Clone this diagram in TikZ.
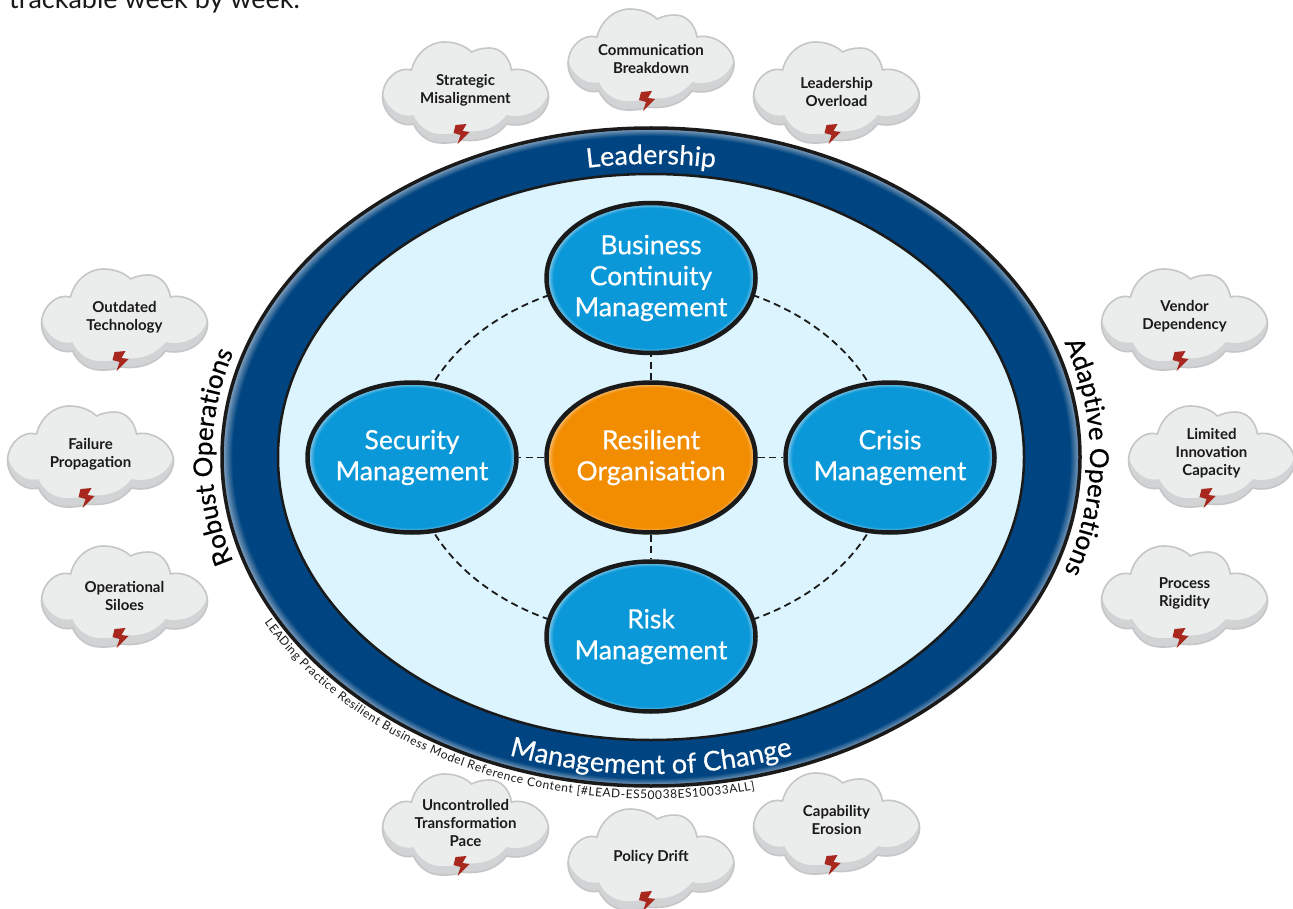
\documentclass[tikz,border=0pt]{standalone}
\usepackage{fontspec}
\setmainfont{Lato}
\newfontfamily\medf[FakeBold=0.5]{Lato}
\usetikzlibrary{shapes.geometric,decorations.text}
\definecolor{navy}{HTML}{004581}
\definecolor{navyedge}{HTML}{8FA9C4}
\definecolor{pale}{HTML}{DCF4FE}
\definecolor{nodeblue}{HTML}{0B98D8}
\definecolor{nodeblueedge}{HTML}{A5D4EC}
\definecolor{nodeorange}{HTML}{F28C00}
\definecolor{nodeorangeedge}{HTML}{F7CB94}
\definecolor{ink}{HTML}{1A1A1A}
\definecolor{cloudlight}{HTML}{EBEDED}
\definecolor{clouddark}{HTML}{D1D3D4}
\definecolor{cloudline}{HTML}{C4C6C8}
\definecolor{boltred}{HTML}{A8281F}
\pgfdeclareradialshading{ringshade}{\pgfpoint{0bp}{0bp}}{color(0bp)=(navy);color(24.4bp)=(navy);color(25bp)=(navyedge);color(50bp)=(navyedge)}
\pgfdeclareradialshading{blueshade}{\pgfpoint{0bp}{0bp}}{color(0bp)=(nodeblue);color(23.4bp)=(nodeblue);color(25bp)=(nodeblueedge);color(50bp)=(nodeblueedge)}
\pgfdeclareradialshading{orangeshade}{\pgfpoint{0bp}{0bp}}{color(0bp)=(nodeorange);color(23.4bp)=(nodeorange);color(25bp)=(nodeorangeedge);color(50bp)=(nodeorangeedge)}
\pgfdeclarelayer{bg}
\pgfdeclarelayer{conn}
\pgfsetlayers{bg,conn,main}
\tikzset{
  x=1pt,y=-1pt,
  bubble/.style={ellipse,draw=ink,line width=4.5pt,minimum width=209pt,minimum height=150pt,inner xsep=-16pt,inner ysep=0pt,
    text=white,align=center,font=\medf\fontsize{26.5}{31}\selectfont},
  bluebubble/.style={bubble,shading=blueshade},
  orangebubble/.style={bubble,shading=orangeshade},
  linkline/.style={dashed,dash pattern=on 7pt off 4.5pt,line width=1.8pt,draw=ink},
  cloudtext/.style={align=center,inner sep=0pt,text=ink,font=\bfseries\fontsize{15}{18}\selectfont},
}
\def\cloudpath{(-54,-22) .. controls (-50,-38) and (-37,-50) .. (-21,-50) .. controls (-10,-50) and (0,-46) .. (6,-40)
 .. controls (12,-43) and (18,-44) .. (24,-44) .. controls (36,-44) and (44,-34) .. (46,-22)
 .. controls (62,-26) and (83,-12) .. (83,5) .. controls (83,22) and (64,37) .. (41,32)
 .. controls (30,46) and (14,50) .. (-4,48) .. controls (-10,51) and (-16,51) .. (-24,51)
 .. controls (-37,51) and (-47,43) .. (-52,32) .. controls (-68,36) and (-83,20) .. (-83,5)
 .. controls (-83,-12) and (-68,-26) .. (-54,-22) -- cycle}
% name, x, y, text offset, text
\newcommand{\cloudat}[5]{%
  \begin{scope}[shift={(#2,#3)}]
    \begin{scope}
      \clip \cloudpath;
      \fill[clouddark] \cloudpath;
      \begin{scope}[yshift=9pt]
        \fill[cloudlight] \cloudpath;
      \end{scope}
    \end{scope}
    \draw[cloudline,line width=1.6pt] \cloudpath;
    \fill[boltred] (-10,33) -- (1,32) -- (-3,39) -- (4,40) -- (-8,52) -- (-5,43) -- (-12,41) -- cycle;
    \node[cloudtext] (#1) at (0,#4) {#5};
  \end{scope}}
\begin{document}
\begin{tikzpicture}
\useasboundingbox (0,0) rectangle (1293,909);
\coordinate (c) at (651,457);

\node[anchor=base west,inner sep=0pt,text=ink,font=\fontsize{27}{27}\selectfont] (head) at (9,9) {trackable week by week.};

\begin{pgfonlayer}{bg}
  \fill[white] (0,0) rectangle (1293,909);
  \path[shading=ringshade,draw=ink,line width=3.5pt] (c) ellipse [x radius=429pt,y radius=329pt];
  \path[fill=pale,draw=ink,line width=2.5pt] (c) ellipse [x radius=373pt,y radius=283pt];
\end{pgfonlayer}

\node[bluebubble] (biz) at (651,278) {Business\\Continuity\\Management};
\node[bluebubble] (sec) at (412,457.5) {Security\\Management};
\node[bluebubble] (cri) at (890,457.5) {Crisis\\Management};
\node[bluebubble] (risk) at (651,636.5) {Risk\\Management};
\node[orangebubble] (res) at (651,457.5) {Resilient\\Organisation};

\begin{pgfonlayer}{conn}
  \draw[linkline] (res) -- (biz);
  \draw[linkline] (res) -- (sec);
  \draw[linkline] (res) -- (cri);
  \draw[linkline] (res) -- (risk);
  \draw[linkline] (biz.center) .. controls +(-132,0) and +(0,-99) .. (sec.center);
  \draw[linkline] (biz.center) .. controls +(132,0) and +(0,-99) .. (cri.center);
  \draw[linkline] (risk.center) .. controls +(-132,0) and +(0,99) .. (sec.center);
  \draw[linkline] (risk.center) .. controls +(132,0) and +(0,99) .. (cri.center);
\end{pgfonlayer}

\path[decorate,decoration={text along path,text align=center,
  text={|\medf\fontsize{26.8}{26.8}\selectfont\color{white}|Leadership}}]
  (c) ++(150:393pt and 293pt) arc[start angle=150,end angle=30,x radius=393pt,y radius=293pt];
\path[decorate,decoration={text along path,text align=center,
  text={|\medf\fontsize{27.2}{27.2}\selectfont\color{white}|Management of Change}}]
  (c) ++(210:417pt and 317pt) arc[start angle=210,end angle=330,x radius=417pt,y radius=317pt];
\path[decorate,decoration={text along path,text align=center,
  text={|\medf\fontsize{26}{26}\selectfont\color{black}|Robust Operations}}]
  (c) ++(215:439pt and 339pt) arc[start angle=215,end angle=145,x radius=439pt,y radius=339pt];
\path[decorate,decoration={text along path,text align=center,
  text={|\medf\fontsize{26}{26}\selectfont\color{black}|Adaptive Operations}}]
  (c) ++(35:439pt and 339pt) arc[start angle=35,end angle=-35,x radius=439pt,y radius=339pt];
\path[decorate,decoration={text along path,text align=fit to path,
  text={|\fontsize{12}{12}\selectfont\color{ink}|LEADing Practice Resilient Business Model Reference Content [{\#}LEAD-ES50038ES10033ALL]}}]
  (c) ++(209:442pt and 342pt) arc[start angle=209,end angle=283.5,x radius=442pt,y radius=342pt];

\cloudat{c1}{465.5}{92}{-2}{Strategic\\Misalignment}
\cloudat{c2}{651}{59}{0}{Communication\\Breakdown}
\cloudat{c3}{836.5}{92}{0}{Leadership\\Overload}
\cloudat{c4}{124.5}{319}{-2}{Outdated\\Technology}
\cloudat{c5}{90.5}{456}{-2}{Failure\\Propagation}
\cloudat{c6}{124.5}{596}{0}{Operational\\Siloes}
\cloudat{c7}{1184.5}{319}{-3}{Vendor\\Dependency}
\cloudat{c8}{1211.5}{456}{-3}{Limited\\Innovation\\Capacity}
\cloudat{c9}{1184.5}{596}{-3}{Process\\Rigidity}
\cloudat{c10}{465.5}{824}{-1}{Uncontrolled\\Transformation\\Pace}
\cloudat{c11}{651}{859}{-2}{Policy Drift}
\cloudat{c12}{836.5}{823}{-3}{Capability\\Erosion}
\end{tikzpicture}
\end{document}
